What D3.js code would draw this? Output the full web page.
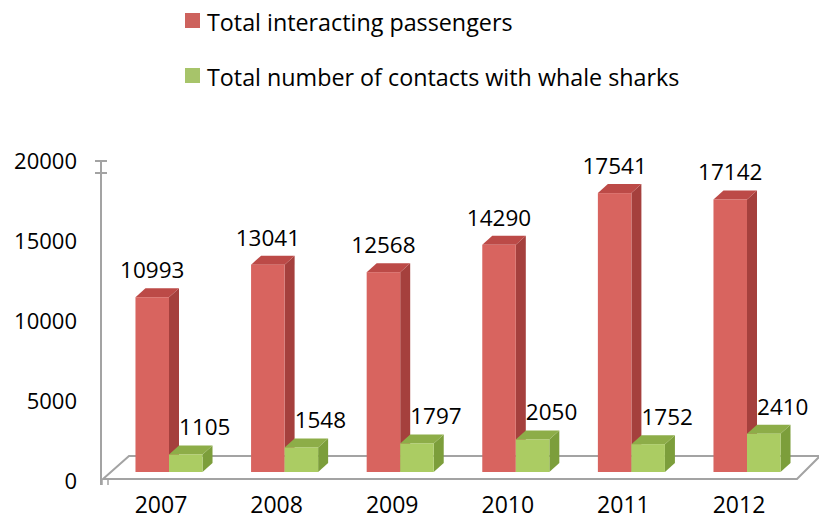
<!DOCTYPE html>
<html>
<head>
<meta charset="utf-8">
<script src="https://cdn.jsdelivr.net/npm/d3@7"></script>
<style>
  body { margin: 0; background: #fff; }
  text { font-family: "Open Sans", sans-serif; fill: #000; }
</style>
</head>
<body>
<svg id="chart"></svg>
<script>
const years = ['2007', '2008', '2009', '2010', '2011', '2012'];
const passengers = [10993, 13041, 12568, 14290, 17541, 17142];
const contacts = [1105, 1548, 1797, 2050, 1752, 2410];
const seriesNames = ['Total interacting passengers', 'Total number of contacts with whale sharks'];
const yTicks = [0, 5000, 10000, 15000, 20000];

const W = 819, H = 524;
const svg = d3.select('#chart').attr('width', W).attr('height', H);

// 3d look
const depthX = 10, depthY = -9;
const palette = [
    { front: '#d8645f', side: '#a5403d', top: '#bc4a47', legend: '#cd625d' },
    { front: '#abcc63', side: '#7c9e3b', top: '#8dad48', legend: '#a7c46a' }
];

// scales
const x = d3.scaleBand()
    .domain(years)
    .range([111.2, 804.8])
    .paddingInner(0.42)
    .paddingOuter(0.21);

const xs = d3.scaleBand()
    .domain([0, 1])
    .range([0, x.bandwidth()]);

const yBar = d3.scaleLinear().domain([0, 20000]).range([472, 154]);
const yAxis = d3.scaleLinear().domain([0, 20000]).range([481, 161]);

// floor
const floorFront = 479, floorBack = 456;
svg.append('path')
    .attr('d', `M103,${floorFront} L797,${floorFront} L820,${floorBack} L129,${floorBack} Z`)
    .attr('fill', '#fff')
    .attr('stroke', '#a3a3a3')
    .attr('stroke-width', 2);

// y axis
svg.append('line')
    .attr('x1', 101).attr('x2', 101)
    .attr('y1', yAxis(20000) - 1).attr('y2', 485)
    .attr('stroke', '#a3a3a3').attr('stroke-width', 2);
[yAxis(20000), yAxis(20000) + 12].forEach(ty => {
    svg.append('line')
        .attr('x1', 95).attr('x2', 107)
        .attr('y1', ty).attr('y2', ty)
        .attr('stroke', '#a3a3a3').attr('stroke-width', 2);
});
[102, 108].forEach(tx => {
    svg.append('line')
        .attr('x1', tx).attr('x2', tx)
        .attr('y1', floorFront).attr('y2', 485)
        .attr('stroke', '#a3a3a3').attr('stroke-width', 1.5);
});

svg.append('g')
    .selectAll('text')
    .data(yTicks)
    .join('text')
    .attr('x', 77)
    .attr('y', d => yAxis(d))
    .attr('dy', '0.35em')
    .attr('text-anchor', 'end')
    .style('font-size', '22px')
    .text(d => d);

// bars
const rows = years.map((yr, i) => ({ year: yr, values: [passengers[i], contacts[i]] }));

function drawBar(g, x0, w, v, c) {
    const top = yBar(v), bottom = yBar(0);
    // side
    g.append('path')
        .attr('d', `M${x0 + w},${bottom} L${x0 + w + depthX},${bottom + depthY} L${x0 + w + depthX},${top + depthY} L${x0 + w},${top} Z`)
        .attr('fill', c.side);
    // top
    g.append('path')
        .attr('d', `M${x0},${top} L${x0 + depthX},${top + depthY} L${x0 + w + depthX},${top + depthY} L${x0 + w},${top} Z`)
        .attr('fill', c.top);
    // front
    g.append('rect')
        .attr('x', x0).attr('y', top)
        .attr('width', w).attr('height', bottom - top)
        .attr('fill', c.front);
}

rows.forEach(r => {
    const g = svg.append('g');
    r.values.forEach((v, s) => {
        drawBar(g, x(r.year) + xs(s), xs.bandwidth(), v, palette[s]);
    });
    r.values.forEach((v, s) => {
        const cx = x(r.year) + xs(s) + xs.bandwidth() / 2 + (s === 1 ? 19 : 0);
        g.append('text')
            .attr('x', cx)
            .attr('y', yBar(v) - 19)
            .attr('text-anchor', 'middle')
            .style('font-size', '22.5px')
            .text(v);
    });
});

// category labels
svg.append('g')
    .selectAll('text')
    .data(years)
    .join('text')
    .attr('x', d => x(d) + x.bandwidth() / 2 - 8)
    .attr('y', 513)
    .attr('text-anchor', 'middle')
    .style('font-size', '23px')
    .text(d => d);

// legend
const legend = svg.append('g');
seriesNames.forEach((name, i) => {
    const ly = i === 0 ? 13 : 68;
    legend.append('rect')
        .attr('x', 185).attr('y', ly)
        .attr('width', 15).attr('height', 15)
        .attr('fill', palette[i].legend);
    legend.append('text')
        .attr('x', 207)
        .attr('y', ly + 18)
        .style('font-size', '23.3px')
        .text(name);
});
</script>
</body>
</html>
